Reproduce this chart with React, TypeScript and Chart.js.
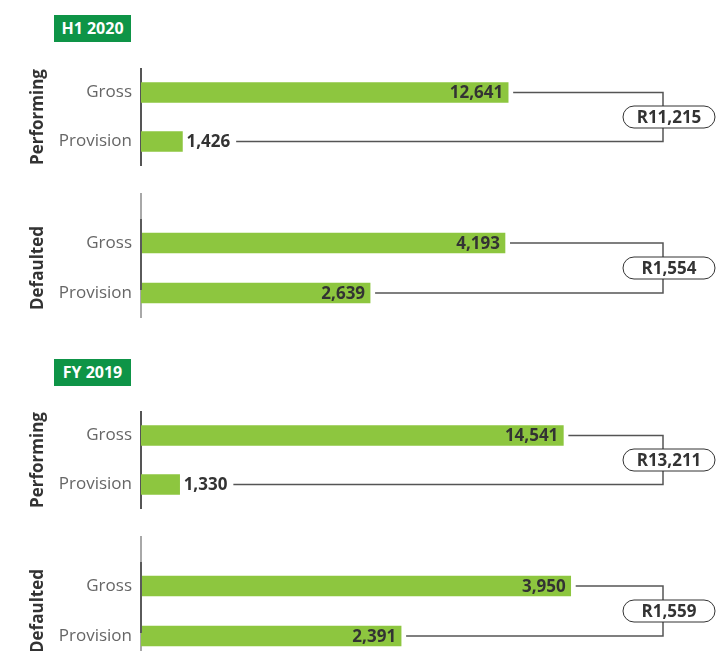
import React, { useEffect, useRef } from "react";
import { Chart, registerables } from "chart.js";

Chart.register(...registerables);

// ---- data ----
const periods = ["H1 2020", "FY 2019"];
const loanClasses = ["Performing", "Defaulted"];
const categories = ["Gross", "Provision"];
// panel order: H1 2020 Performing, H1 2020 Defaulted, FY 2019 Performing, FY 2019 Defaulted
const grossValues = [12641, 4193, 14541, 3950];
const provisionValues = [1426, 2639, 1330, 2391];
const scaleMax = [20210, 6762, 20210, 5396];

// ---- style / layout ----
const FONT = "'Open Sans', 'DejaVu Sans', sans-serif";
const BAR_COLOR = "#8dc63f";
const HEADER_COLOR = "#0e9447";
const TEXT_DARK = "#333333";
const LINE_COLOR = "#555555";
const panelTops = [68, 193, 411, 536];
const panelPadTop = [0, 25, 0, 25];
const panelHeights = [98, 125, 98, 125];
const headerTops = [15, 359];

const fmt = (v: number) => v.toLocaleString("en-US");

function Panel({ index }: { index: number }) {
  const ref = useRef<HTMLCanvasElement>(null);
  useEffect(() => {
    const canvas = ref.current;
    if (!canvas) return;
    const isDefaulted = index % 2 === 1;
    const values = [grossValues[index], provisionValues[index]];
    const net = values[0] - values[1];

    const annot = {
      id: "annot" + index,
      afterDraw(chart: any) {
        const ctx = chart.ctx as CanvasRenderingContext2D;
        const area = chart.chartArea;
        ctx.save();
        if (isDefaulted) {
          ctx.strokeStyle = "#a8a8a8";
          ctx.lineWidth = 2;
          ctx.beginPath();
          ctx.moveTo(area.left, 0);
          ctx.lineTo(area.left, area.top);
          ctx.stroke();
          ctx.strokeStyle = "#5a5a5a";
          ctx.beginPath();
          ctx.moveTo(area.left, area.top + 1);
          ctx.lineTo(area.left, area.top + 72);
          ctx.stroke();
        }
        const meta = chart.getDatasetMeta(0);
        ctx.font = `bold 17px ${FONT}`;
        ctx.fillStyle = TEXT_DARK;
        ctx.textBaseline = "middle";
        const ends = meta.data.map((bar: any, i: number) => {
          const { x, y, base } = bar.getProps(["x", "y", "base"], true);
          const text = fmt(values[i]);
          const w = ctx.measureText(text).width;
          let end: number;
          if (x - base > w + 12) {
            ctx.textAlign = "right";
            ctx.fillText(text, x - 5, y + 1);
            end = x + 5;
          } else {
            ctx.textAlign = "left";
            ctx.fillText(text, x + 4, y + 1);
            end = x + 4 + w + 6;
          }
          return { end, y };
        });
        const connX = area.left + 522;
        ctx.strokeStyle = LINE_COLOR;
        ctx.lineWidth = 1.5;
        ctx.beginPath();
        ctx.moveTo(ends[0].end, ends[0].y);
        ctx.lineTo(connX, ends[0].y);
        ctx.lineTo(connX, ends[1].y);
        ctx.lineTo(ends[1].end, ends[1].y);
        ctx.stroke();
        const cy = (ends[0].y + ends[1].y) / 2;
        const bw = 92;
        const bh = 22;
        const bx = connX + 6 - bw / 2;
        ctx.beginPath();
        (ctx as any).roundRect(bx, cy - bh / 2, bw, bh, 11);
        ctx.fillStyle = "#ffffff";
        ctx.fill();
        ctx.strokeStyle = TEXT_DARK;
        ctx.lineWidth = 1;
        ctx.stroke();
        ctx.fillStyle = TEXT_DARK;
        ctx.textAlign = "center";
        ctx.fillText("R" + fmt(net), connX + 6, cy + 1);
        ctx.restore();
      },
    };

    const chart = new Chart(canvas, {
      type: "bar",
      data: {
        labels: categories,
        datasets: [
          {
            data: values,
            backgroundColor: BAR_COLOR,
            borderWidth: 0,
            barThickness: 20,
          },
        ],
      },
      options: {
        indexAxis: "y",
        responsive: false,
        animation: false,
        layout: { padding: { top: panelPadTop[index], left: 0, right: 0, bottom: 0 } },
        plugins: {
          legend: { display: false },
          tooltip: { enabled: false },
        },
        scales: {
          x: { display: false, min: 0, max: scaleMax[index] },
          y: {
            afterFit: (s: any) => {
              s.width = 141;
              s.paddingTop = 0;
              s.paddingBottom = 0;
            },
            grid: { display: false, drawTicks: false },
            border: { display: true, color: isDefaulted ? "#a8a8a8" : "#555555", width: 2 },
            ticks: { padding: 9, color: "#666666", font: { family: FONT, size: 17 } },
            title: {
              display: true,
              text: loanClasses[index % 2],
              color: TEXT_DARK,
              font: { family: FONT, size: 17, weight: "bold" },
              padding: { top: 28, bottom: 0 },
            },
          },
        },
      } as any,
      plugins: [annot],
    });
    return () => chart.destroy();
  }, [index]);

  return (
    <canvas
      ref={ref}
      width={728}
      height={panelHeights[index]}
      style={{ position: "absolute", left: 0, top: panelTops[index], width: 728, height: panelHeights[index] }}
    />
  );
}

export default function App() {
  return (
    <div
      style={{
        position: "fixed",
        left: 0,
        top: 0,
        width: 728,
        height: 651,
        overflow: "hidden",
        background: "#ffffff",
        fontFamily: FONT,
      }}
    >
      {periods.map((p, i) => (
        <div
          key={p}
          style={{
            position: "absolute",
            left: 54,
            top: headerTops[i],
            width: 77,
            height: 27,
            background: HEADER_COLOR,
            color: "#ffffff",
            fontWeight: 700,
            fontSize: 16,
            lineHeight: "27px",
            textAlign: "center",
          }}
        >
          {p}
        </div>
      ))}
      {[0, 1, 2, 3].map((i) => (
        <Panel key={i} index={i} />
      ))}
    </div>
  );
}
